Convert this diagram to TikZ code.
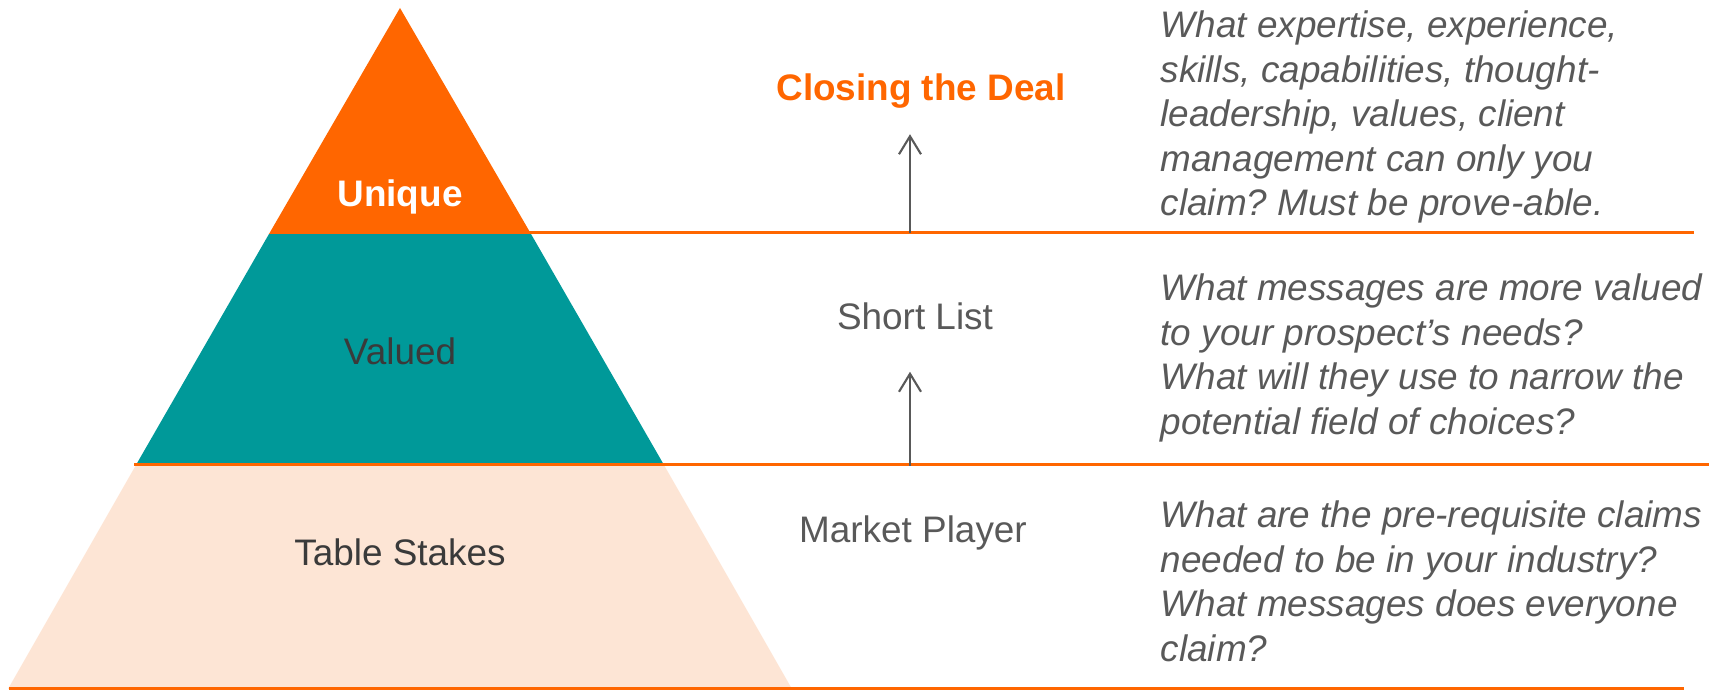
\documentclass[tikz,border=0pt]{standalone}
\usepackage{fontspec}
\setmainfont{Liberation Sans}
\usetikzlibrary{arrows.meta}
\frenchspacing

\definecolor{dealorange}{HTML}{FF6600}
\definecolor{valuedteal}{HTML}{009999}
\definecolor{stakespeach}{HTML}{FDE5D5}
\definecolor{labelgray}{HTML}{3A3A3A}
\definecolor{notegray}{HTML}{595959}

\begin{document}
\begin{tikzpicture}[
    tierlabel/.style={anchor=base, font=\fontsize{10.5}{12.6}\selectfont, text=labelgray},
    stagelabel/.style={anchor=base, font=\fontsize{10.5}{12.6}\selectfont, text=notegray},
    note/.style={anchor=north west, inner sep=0pt, align=left,
        font=\fontsize{10.5}{12.7}\selectfont\itshape, text=notegray},
    divider/.style={draw=dealorange, line width=0.85pt},
    rise/.style={-{Straight Barb[length=1.8mm,width=2.2mm]}, draw=notegray, line width=0.6pt}
]
    \useasboundingbox (0,0) rectangle (17.25,6.91);

    % Pyramid tiers, bottom to top
    \fill[stakespeach] (0.08,0.02) -- (7.92,0.02) -- (6.64,2.26) -- (1.36,2.26) -- cycle;
    \fill[valuedteal] (1.36,2.26) -- (6.64,2.26) -- (5.31,4.57) -- (2.69,4.57) -- cycle;
    \fill[dealorange] (2.69,4.57) -- (5.31,4.57) -- (4.00,6.83) -- cycle;

    % Dividers between the levels
    \draw[divider] (5.28,4.58) -- (16.94,4.58);
    \draw[divider] (1.34,2.26) -- (17.09,2.26);
    \draw[divider] (0.09,0.02) -- (16.84,0.02);

    % Tier labels
    \node[tierlabel, text=white] (unique) at (4.00,4.84) {\textbf{Unique}};
    \node[tierlabel] (valued) at (4.00,3.26) {Valued};
    \node[tierlabel] (stakes) at (4.00,1.25) {Table Stakes};

    % Stages
    \node[stagelabel, text=dealorange] (deal) at (9.21,5.90) {\textbf{Closing the Deal}};
    \node[stagelabel] (shortlist) at (9.15,3.61) {Short List};
    \node[stagelabel] (player) at (9.13,1.48) {Market Player};

    % Arrows up from the dividers
    \coordinate (lift1) at (9.10,4.58);
    \coordinate (lift2) at (9.10,2.25);
    \draw[rise, shorten >=0.13cm] (lift1) -- (lift1 |- deal.south);
    \draw[rise, shorten >=0.29cm] (lift2) -- (lift2 |- shortlist.south);

    % Questions for each level
    \node[note] (uniquenote) at (11.60,6.855) {\strut What expertise, experience,\\
        skills, capabilities, thought-\\
        leadership, values, client\\
        management can only you\\
        claim? Must be prove-able.};
    \node[note] (valuednote) at (11.60,4.225) {\strut What messages are more valued\\
        to your prospect’s needs?\\
        What will they use to narrow the\\
        potential field of choices?};
    \node[note] (stakesnote) at (11.60,1.955) {\strut What are the pre-requisite claims\\
        needed to be in your industry?\\
        What messages does everyone\\
        claim?};

\end{tikzpicture}
\end{document}
